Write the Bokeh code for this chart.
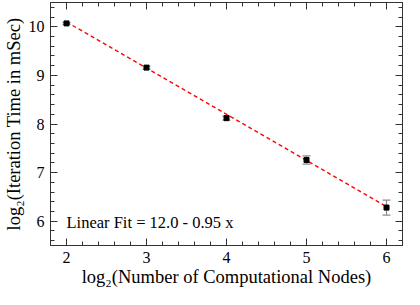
from bokeh.plotting import figure
from bokeh.models import (ColumnDataSource, Whisker, TeeHead, LinearAxis,
                          SingleIntervalTicker, Label, Range1d)
from bokeh.embed import file_html
from bokeh.resources import INLINE

# ---- data ----
log2_nodes = [2, 3, 4, 5, 6]
log2_time = [10.07, 9.16, 8.12, 7.26, 6.28]
time_err = [0.02, 0.03, 0.04, 0.085, 0.155]
fit_intercept = 12.0
fit_slope = -0.95
fit_x = [2, 6]
fit_label = "Linear Fit = 12.0 - 0.95 x"
x_title = "log₂(Number of Computational Nodes)"
y_title = "log₂(Iteration Time in mSec)"

FONT = "Liberation Serif"

src = ColumnDataSource(dict(
    x=log2_nodes, y=log2_time,
    upper=[v + e for v, e in zip(log2_time, time_err)],
    lower=[v - e for v, e in zip(log2_time, time_err)],
))

p = figure(width=404, height=289, output_backend="svg", toolbar_location=None,
           x_range=Range1d(1.8, 6.2), y_range=Range1d(5.5, 10.5),
           min_border_left=44, min_border_right=2, min_border_top=2,
           min_border_bottom=42)
p.grid.visible = False
p.outline_line_color = "#333333"
p.background_fill_color = "white"
p.border_fill_color = "white"

p.xaxis.ticker = SingleIntervalTicker(interval=1, num_minor_ticks=5)
p.yaxis.ticker = SingleIntervalTicker(interval=1, num_minor_ticks=5)

def style_axis(ax, labels=True):
    ax.major_tick_in = 7
    ax.major_tick_out = 0
    ax.minor_tick_in = 4
    ax.minor_tick_out = 0
    ax.axis_line_color = "#333333"
    ax.major_tick_line_color = "#333333"
    ax.minor_tick_line_color = "#333333"
    if labels:
        ax.major_label_text_font = FONT
        ax.major_label_text_font_size = "16px"
        ax.major_label_text_color = "black"
        ax.axis_label_text_font = FONT
        ax.axis_label_text_font_size = "18.5px"
        ax.axis_label_text_font_style = "normal"
        ax.axis_label_text_color = "black"
    else:
        ax.major_label_text_font_size = "1px"
        ax.major_label_text_color = None
        ax.major_label_standoff = 0
        ax.axis_label = None

style_axis(p.xaxis[0])
style_axis(p.yaxis[0])
p.xaxis.axis_label = x_title
p.yaxis.axis_label = y_title
p.xaxis.major_label_standoff = 6
p.yaxis.major_label_standoff = 6
p.xaxis.axis_label_standoff = 1
p.yaxis.axis_label_standoff = 2

top = LinearAxis(ticker=SingleIntervalTicker(interval=1, num_minor_ticks=5))
right = LinearAxis(ticker=SingleIntervalTicker(interval=1, num_minor_ticks=5))
style_axis(top, labels=False)
style_axis(right, labels=False)
p.add_layout(top, "above")
p.add_layout(right, "right")

# fit line
fit_y = [fit_intercept + fit_slope * v for v in fit_x]
p.line(fit_x, fit_y, line_color="red", line_dash="4 3", line_width=1.3)

# error bars
p.add_layout(Whisker(source=src, base="x", upper="upper", lower="lower",
                     line_color="#8c8c8c", line_width=1.2,
                     upper_head=TeeHead(size=8, line_color="#8c8c8c", line_width=1.2),
                     lower_head=TeeHead(size=8, line_color="#8c8c8c", line_width=1.2)))

p.scatter("x", "y", source=src, marker="square", size=5, color="black")

p.add_layout(Label(x=2, y=5.98, text=fit_label, text_font=FONT,
                   text_font_size="16.5px", text_baseline="middle",
                   text_color="black"))

open("out.html", "w").write(file_html(p, INLINE))
